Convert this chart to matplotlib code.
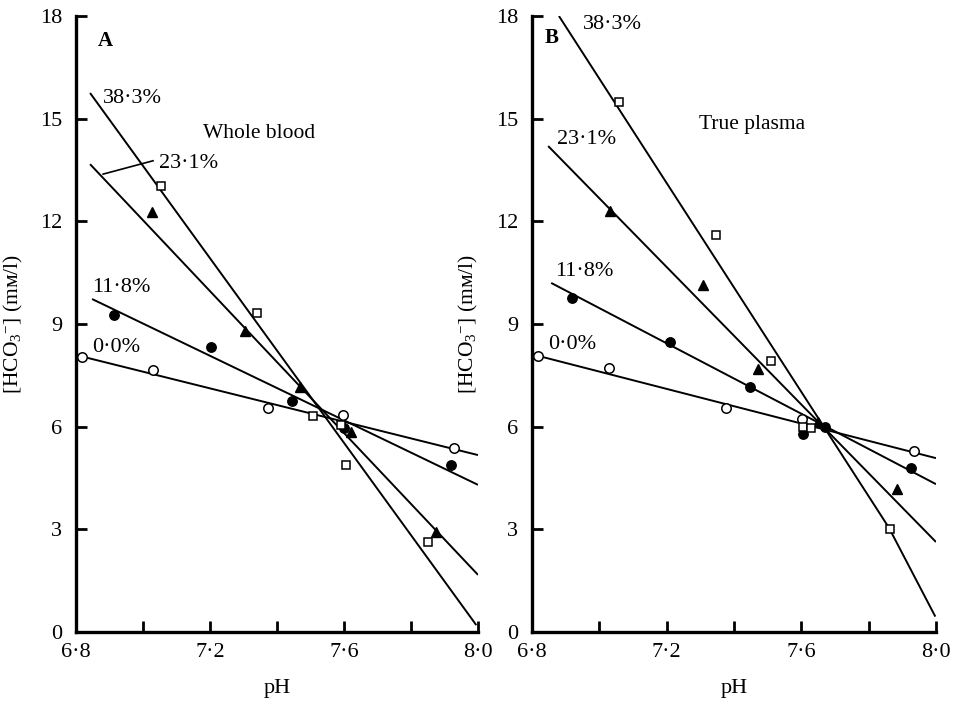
import matplotlib
matplotlib.use("Agg")
import matplotlib.pyplot as plt
from matplotlib.ticker import FixedLocator

plt.rcParams['font.family'] = ['Liberation Serif', 'DejaVu Serif']
plt.rcParams['mathtext.fontset'] = 'custom'
plt.rcParams['mathtext.rm'] = 'Liberation Serif'
plt.rcParams['mathtext.it'] = 'Liberation Serif:italic'

# ---- panel A: whole blood ----
a_open_x = [6.818, 7.03, 7.373, 7.597, 7.928]
a_open_y = [8.04, 7.66, 6.55, 6.34, 5.38]
a_fill_x = [6.913, 7.203, 7.445, 7.60, 7.919]
a_fill_y = [9.26, 8.33, 6.75, 5.95, 4.88]
a_tri_x = [7.027, 7.305, 7.469, 7.62, 7.875]
a_tri_y = [12.27, 8.80, 7.16, 5.85, 2.92]
a_sq_x = [7.054, 7.34, 7.507, 7.59, 7.606, 7.851]
a_sq_y = [13.03, 9.32, 6.31, 6.05, 4.88, 2.63]

# regression lines (pH, HCO3) for 0.0, 11.8, 23.1, 38.3 %
a_lines_x = [[6.818, 8.0], [6.848, 8.0], [6.842, 8.0], [6.842, 7.995]]
a_lines_y = [[8.05, 5.17], [9.73, 4.30], [13.67, 1.67], [15.75, 0.2]]

# ---- panel B: true plasma ----
b_open_x = [6.818, 7.03, 7.375, 7.602, 7.936]
b_open_y = [8.07, 7.71, 6.55, 6.22, 5.29]
b_fill_x = [6.919, 7.211, 7.447, 7.605, 7.67, 7.927]
b_fill_y = [9.76, 8.47, 7.16, 5.79, 6.0, 4.79]
b_tri_x = [7.032, 7.307, 7.47, 7.65, 7.885]
b_tri_y = [12.30, 10.14, 7.69, 6.15, 4.18]
b_sq_x = [7.059, 7.348, 7.509, 7.605, 7.63, 7.864]
b_sq_y = [15.49, 11.60, 7.92, 5.99, 5.97, 3.00]

b_lines_x = [[6.818, 8.0], [6.857, 8.0], [6.848, 8.0], [6.88, 7.86, 7.998]]
b_lines_y = [[8.07, 5.08], [10.2, 4.32], [14.2, 2.63], [18.0, 3.05, 0.45]]

pct_labels = ['0·0%', '11·8%', '23·1%', '38·3%']
a_label_pos = [(6.848, 8.3), (6.848, 10.08), (7.048, 13.7), (6.881, 15.6)]
b_label_pos = [(6.848, 8.39), (6.869, 10.52), (6.875, 14.38), (6.952, 17.74)]

x_ticks = [6.8, 7.0, 7.2, 7.4, 7.6, 7.8, 8.0]
x_ticklabels = ['6·8', '', '7·2', '', '7·6', '', '8·0']
y_ticks = [0, 3, 6, 9, 12, 15, 18]


def draw_panel(ax, open_xy, fill_xy, tri_xy, sq_xy, lines_x, lines_y,
               label_pos, letter, letter_pos, title, title_pos):
    for lx, ly in zip(lines_x, lines_y):
        ax.plot(lx, ly, color='black', lw=1.4, solid_capstyle='butt', zorder=2)

    ax.plot(*open_xy, 'o', ms=6.8, mfc='white', mec='black', mew=1.1, zorder=3)
    ax.plot(*fill_xy, 'o', ms=6.8, mfc='black', mec='black', zorder=3)
    ax.plot(*tri_xy, '^', ms=6.8, mfc='black', mec='black', zorder=3)
    ax.plot(*sq_xy, 's', ms=5.5, mfc='white', mec='black', mew=1.1, zorder=3)

    for txt, (px, py) in zip(pct_labels, label_pos):
        ax.text(px, py, txt, fontsize=16, ha='left', va='center')

    ax.text(letter_pos[0], letter_pos[1], letter, fontsize=15,
            fontweight='bold', ha='left', va='center')
    ax.text(title_pos[0], title_pos[1], title, fontsize=15.5,
            ha='left', va='center')

    ax.set_xlim(6.8, 8.0)
    ax.set_ylim(0, 18)
    ax.xaxis.set_major_locator(FixedLocator(x_ticks))
    ax.set_xticklabels(x_ticklabels)
    ax.yaxis.set_major_locator(FixedLocator(y_ticks))
    ax.set_yticklabels([str(v) for v in y_ticks])
    ax.tick_params(direction='in', length=8, width=2, labelsize=16, pad=8)
    ax.tick_params(axis='y', pad=10)

    for side in ('top', 'right'):
        ax.spines[side].set_visible(False)
    for side in ('left', 'bottom'):
        ax.spines[side].set_linewidth(2.4)

    ax.set_xlabel('pH', fontsize=16)
    ax.xaxis.set_label_coords(0.5, -0.076)
    ax.set_ylabel('[HCO$_3$$^{-}$] (m\u1d0d/l)', fontsize=15.5)
    ax.yaxis.set_label_coords(-0.128, 0.5)


fig = plt.figure(figsize=(9.57, 7.01), dpi=100)
axA = fig.add_axes([76 / 957, 69 / 701, 402 / 957, 616 / 701])
axB = fig.add_axes([532 / 957, 69 / 701, 404 / 957, 616 / 701])

draw_panel(axA, (a_open_x, a_open_y), (a_fill_x, a_fill_y), (a_tri_x, a_tri_y),
           (a_sq_x, a_sq_y), a_lines_x, a_lines_y, a_label_pos,
           'A', (6.866, 17.27), 'Whole blood', (7.179, 14.58))
# leader line for the 23.1 % label
axA.plot([6.881, 7.03], [13.38, 13.77], color='black', lw=1.2)

draw_panel(axB, (b_open_x, b_open_y), (b_fill_x, b_fill_y), (b_tri_x, b_tri_y),
           (b_sq_x, b_sq_y), b_lines_x, b_lines_y, b_label_pos,
           'B', (6.839, 17.36), 'True plasma', (7.295, 14.82))

fig.savefig('out.png', dpi=100)
